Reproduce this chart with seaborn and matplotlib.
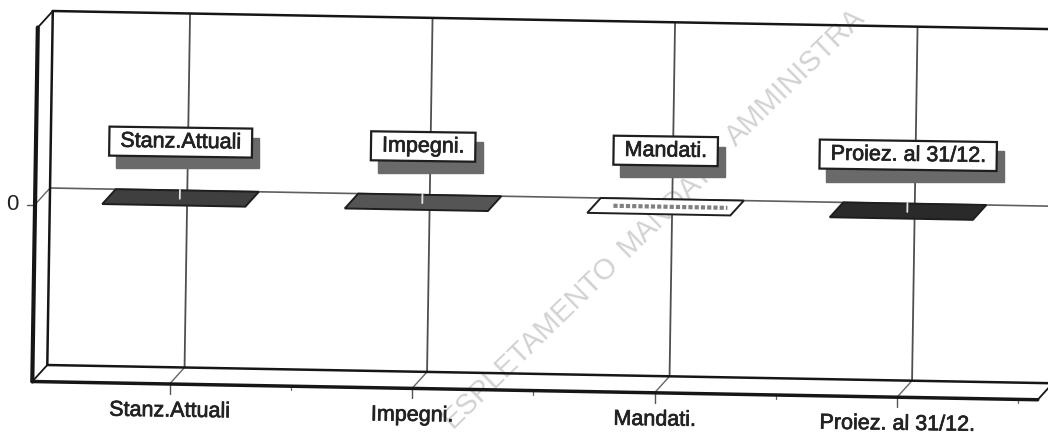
import numpy as np
import pandas as pd
import matplotlib
matplotlib.use("Agg")
import matplotlib.pyplot as plt
import matplotlib.patheffects as pe
import seaborn as sns
from matplotlib.path import Path
from matplotlib.patches import Polygon, Rectangle
from matplotlib.transforms import Affine2D, IdentityTransform

categories = ["Stanz.Attuali", "Impegni.", "Mandati.", "Proiez. al 31/12."]
values = [0, 0, 0, 0]
face_colors = ["#3f3f3f", "#555555", "#ffffff", "#2a2a2a"]
y_ticks = [0]
watermark_words = ["ESPLETAMENTO", "MANDATO", "©", "AMMINISTRA"]

sns.set_theme(style="white")
plt.rcParams["font.family"] = ["Liberation Sans", "DejaVu Sans"]

W, H = 1048, 435
fig = plt.figure(figsize=(W / 100, H / 100), dpi=100)
ax = fig.add_axes([0, 0, 1, 1])

df = pd.DataFrame({"cat": categories, "val": values})
sns.barplot(data=df, x="cat", y="val", width=0.59, ax=ax, linewidth=0)
ax.set_axis_off()

# the scanned 3D chart: category/value plane tilted a bit, depth goes down-left
proj = Affine2D(np.array([[242.5, 2.75, 187.3], [-4.4, 177.0, H - 191.5], [0, 0, 1]]))
depth_vec = np.array([-15.0, -16.5])
left, right = -0.566, 3.58
disp = IdentityTransform()
heavy = [pe.withStroke(linewidth=0.5, foreground="#222222")]


def pt(x, v, d=0.0):
    return proj.transform((x, v)) + d * depth_vec


def seg(a, b, **kw):
    ax.plot([a[0], b[0]], [a[1], b[1]], transform=disp, solid_capstyle="round", clip_on=True, **kw)


def wide_box(x0, y0, width, height, mutation_size):
    # label frame, wider than it is tall
    x0, x1 = x0 - 11, x0 + width + 11
    y0, y1 = y0 - 4, y0 + height + 4
    return Path([(x0, y0), (x1, y0), (x1, y1), (x0, y1), (x0, y0)], closed=True)


# watermark
wm_kw = dict(transform=disp, rotation=44.3, rotation_mode="anchor", color="#d2d2d2", fontsize=21,
             ha="left", va="center", zorder=0.5, clip_on=True)
for word, start in zip(watermark_words, [(447, H - 423), (622, H - 252), (698, H - 170), (730, H - 141)]):
    ax.text(start[0], start[1], word, **wm_kw)

# back wall gridlines and side/floor
dark = "#161616"
for i in range(len(categories)):
    seg(pt(i, 1), pt(i, -1), color="#4f4f4f", lw=1.3, zorder=1)
    seg(pt(i, -1), pt(i, -1, 1), color="#666666", lw=1.0, zorder=1)
    seg(pt(i, -1, 1), pt(i, -1, 1) + (0, -10), color="#555555", lw=1.0, zorder=1)
for i in np.arange(0.5, 3.6, 1.0):
    seg(pt(i, -1, 1), pt(i, -1, 1) + (0, -4), color="#666666", lw=0.9, zorder=1)

for t in y_ticks:
    seg(pt(left, t), pt(right, t), color="#5f5f5f", lw=1.2, zorder=1)
    seg(pt(left, t), pt(left, t, 1), color="#666666", lw=1.0, zorder=1)
    seg(pt(left, t, 1), pt(left, t, 1) + (-8, 0), color="#555555", lw=1.0, zorder=1)
    tp = pt(left, t, 1)
    ax.text(tp[0] - 23, tp[1] + 1, str(t), transform=disp, fontsize=16, color="#222222",
            ha="center", va="center")

seg(pt(left, 1), pt(right, 1), color=dark, lw=1.8, zorder=2)
seg(pt(left, 1), pt(left, -1), color=dark, lw=1.8, zorder=2)
seg(pt(left, -1), pt(right, -1), color=dark, lw=1.8, zorder=2)
seg(pt(left, 1, 1), pt(left, -1, 1), color=dark, lw=3.0, zorder=2)
seg(pt(left, 1), pt(left, 1, 1), color=dark, lw=1.3, zorder=2)
seg(pt(left, -1), pt(left, -1, 1), color=dark, lw=1.3, zorder=2)
seg(pt(left, -1, 1), pt(right, -1, 1), color=dark, lw=2.5, zorder=2)
seg(pt(right, -1), pt(right, -1, 1), color=dark, lw=1.3, zorder=2)

renderer = fig.canvas.get_renderer()

# zero height bars: only the top face of each one shows
for bar, val, fc, name in zip(ax.patches, values, face_colors, categories):
    x0, x1 = bar.get_x(), bar.get_x() + bar.get_width()
    mid = (x0 + x1) / 2
    corners = [pt(x0, val), pt(x1, val), pt(x1, val, 0.9), pt(x0, val, 0.9)]
    ax.add_patch(Polygon(corners, closed=True, transform=disp, facecolor=fc, edgecolor="#1e1e1e",
                         lw=1.4, zorder=3))
    if fc == "#ffffff":
        seg(pt(x0 + 0.08, val, 0.45), pt(x1 - 0.04, val, 0.45), color="#808080", lw=3.0,
            linestyle=(0, (1, 0.5)), zorder=4)
    else:
        seg(pt(mid, val + 0.05, 0.5), pt(mid, val, 0.5), color="#e6e6e6", lw=1.3, zorder=4)

    # label box floating over the bar, its shadow sized from the text
    c = pt(mid, val + 0.32, 0.5)
    label = ax.text(c[0], c[1], name, transform=disp, fontsize=15.5, color="#222222", ha="center",
                    va="center", rotation=-0.8, rotation_mode="anchor", zorder=6,
                    path_effects=heavy,
                    bbox=dict(boxstyle=wide_box, facecolor="white", edgecolor="#1e1e1e", lw=1.6))
    ext = label.get_window_extent(renderer)
    ax.add_patch(Rectangle((ext.x0 - 11 + 7, ext.y0 - 4 - 11), ext.width + 22, ext.height + 8,
                           transform=disp, facecolor="#6a6a6a", edgecolor="#6a6a6a", lw=1, zorder=5))

    # category label below the front floor edge
    p = pt(round(mid), -1, 1)
    ax.text(p[0], p[1] - 27, name, transform=disp, fontsize=15.5, color="#222222", ha="center",
            va="center", rotation=-0.8, rotation_mode="anchor", path_effects=heavy)

fig.savefig("out.png", dpi=100, facecolor="white")
